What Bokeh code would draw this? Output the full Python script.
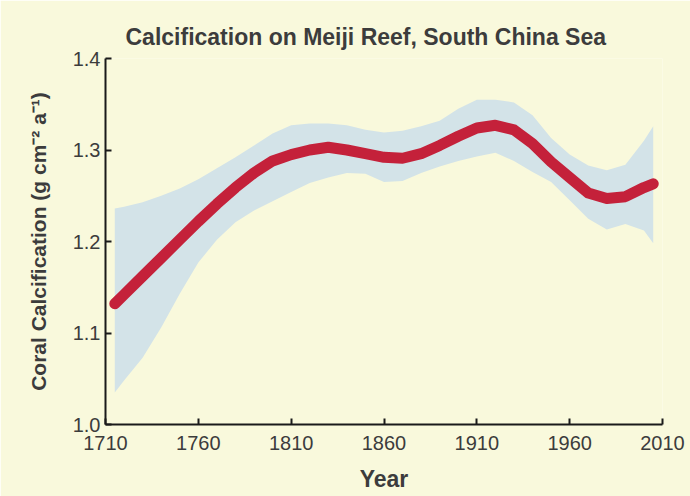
from bokeh.plotting import figure
from bokeh.embed import file_html
from bokeh.resources import INLINE
from bokeh.models import Range1d, FixedTicker, ColumnDataSource

years = [1715, 1720, 1730, 1740, 1750, 1760, 1770, 1780, 1790, 1800, 1810, 1820,
         1830, 1840, 1850, 1860, 1870, 1880, 1890, 1900, 1910, 1920, 1930, 1940,
         1950, 1960, 1970, 1980, 1990, 2000, 2005]
calcification = [1.132, 1.142, 1.162, 1.182, 1.202, 1.222, 1.241, 1.259, 1.275, 1.288,
                 1.295, 1.300, 1.303, 1.300, 1.296, 1.292, 1.291, 1.296, 1.305, 1.315,
                 1.324, 1.327, 1.322, 1.307, 1.287, 1.270, 1.253, 1.247, 1.249, 1.259, 1.263]
upper = [1.236, 1.238, 1.243, 1.250, 1.258, 1.268, 1.280, 1.292, 1.305, 1.318, 1.327,
         1.329, 1.329, 1.327, 1.322, 1.319, 1.321, 1.326, 1.332, 1.345, 1.355, 1.355,
         1.352, 1.338, 1.313, 1.295, 1.283, 1.278, 1.284, 1.310, 1.326]
lower = [1.035, 1.048, 1.073, 1.106, 1.143, 1.177, 1.202, 1.221, 1.234, 1.244, 1.254,
         1.264, 1.270, 1.275, 1.274, 1.265, 1.266, 1.275, 1.282, 1.288, 1.293, 1.297,
         1.288, 1.276, 1.265, 1.245, 1.225, 1.213, 1.219, 1.212, 1.198]
x_ticks = [1710, 1760, 1810, 1860, 1910, 1960, 2010]
y_ticks = [1.0, 1.1, 1.2, 1.3, 1.4]

BG = "#f9f9dc"
TXT = "#3c3c3c"
FONT = "Liberation Sans"

src = ColumnDataSource(dict(year=years, mean=calcification, upper=upper, lower=lower))

p = figure(width=690, height=496, output_backend="svg", toolbar_location=None,
           x_range=Range1d(1710, 2010), y_range=Range1d(1.0, 1.4),
           min_border_left=105, min_border_right=28, min_border_top=58,
           min_border_bottom=72,
           title="Calcification on Meiji Reef, South China Sea")

p.background_fill_color = BG
p.border_fill_color = BG
p.outline_line_color = None
p.grid.visible = False

p.title.align = "left"
p.title.offset = 20
p.title.standoff = 18
p.title.text_font = FONT
p.title.text_font_size = "23px"
p.title.text_font_style = "bold"
p.title.text_color = TXT

p.varea(x="year", y1="lower", y2="upper", source=src, fill_color="#d3e3e8", fill_alpha=1.0)
p.line(x="year", y="mean", source=src, line_color="#c4213a", line_width=11,
       line_cap="round", line_join="round")

for ax in (p.xaxis[0], p.yaxis[0]):
    ax.axis_line_color = "#1a1a1a"
    ax.axis_line_width = 2
    ax.major_tick_line_color = "#1a1a1a"
    ax.major_tick_line_width = 2
    ax.major_tick_in = 6
    ax.major_tick_out = 0
    ax.minor_tick_line_color = None
    ax.major_label_text_font = FONT
    ax.major_label_text_font_size = "20px"
    ax.major_label_text_color = TXT
    ax.axis_label_text_font = FONT
    ax.axis_label_text_font_style = "bold"
    ax.axis_label_text_color = TXT

p.xaxis.ticker = FixedTicker(ticks=x_ticks)
p.yaxis.ticker = FixedTicker(ticks=y_ticks)
p.xaxis.major_label_overrides = {t: str(t) for t in x_ticks}
p.yaxis.major_label_overrides = {t: f"{t:.1f}" for t in y_ticks}
p.xaxis.major_label_standoff = 11
p.yaxis.major_label_standoff = 5
p.xaxis.axis_label = "Year"
p.xaxis.axis_label_text_font_size = "23px"
p.xaxis.axis_label_standoff = 13
p.yaxis.axis_label = "Coral Calcification (g cm⁻² a⁻¹)"
p.yaxis.axis_label_text_font_size = "21px"
p.yaxis.axis_label_standoff = 20

html = file_html(p, INLINE)
html = html.replace("<body>", f'<body style="background:{BG}">', 1)
open("out.html", "w").write(html)
